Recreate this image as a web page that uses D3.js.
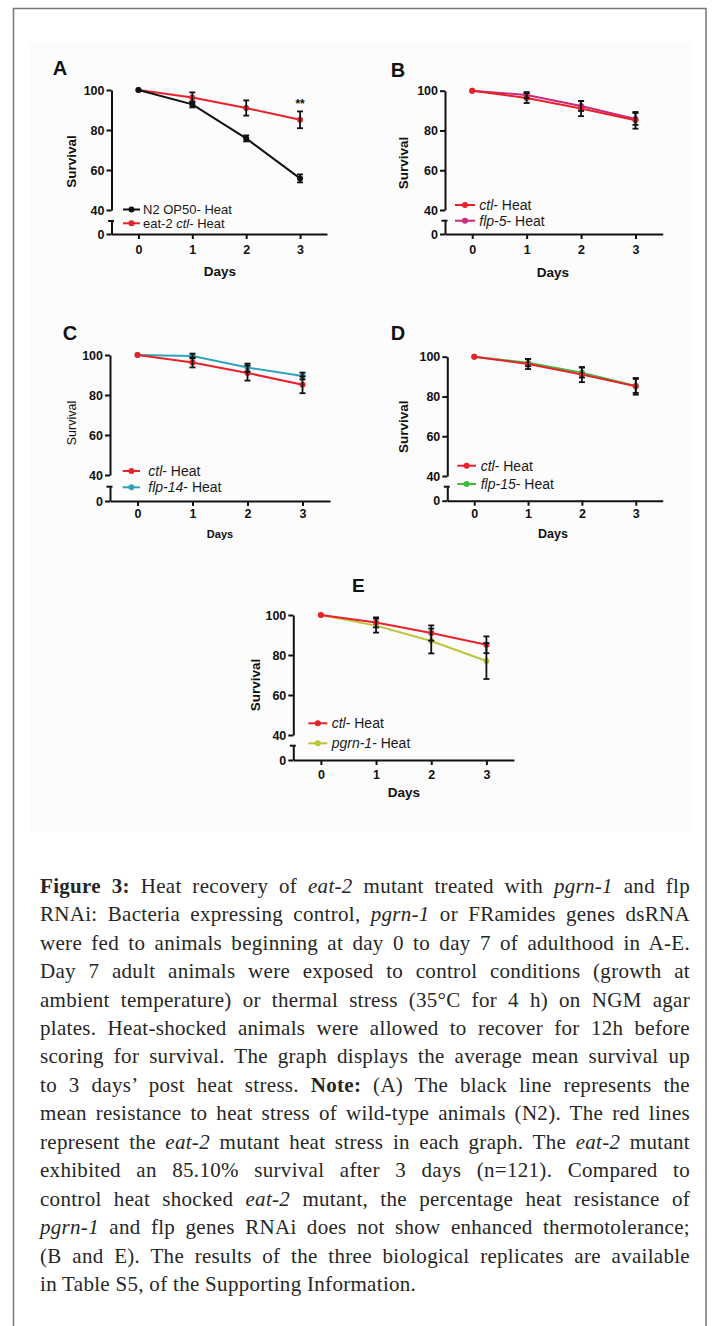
<!DOCTYPE html>
<html>
<head>
<meta charset="utf-8">
<script src="https://cdn.jsdelivr.net/npm/d3@7/dist/d3.min.js"></script>
<style>
  body { margin: 0; background: #fff; }
  #page { position: relative; width: 714px; height: 1326px; overflow: hidden; }
  #page svg { position: absolute; left: 0; top: 0; }
  .cap { position: absolute; left: 40px; width: 650px; white-space: nowrap;
         font-family: "Liberation Serif", "Times New Roman", serif; font-size: 21px;
         letter-spacing: 0.3px; line-height: 28.4px; color: #262626; }
  .cap b { font-weight: bold; }
</style>
</head>
<body>
<div id="page"></div>
<script>
// days after heat shock
var days = [0, 1, 2, 3];
var yTicks = [40, 60, 80, 100];

// mean survival (%) and error
var n2Heat = [100, 92.8, 75.8, 55.8];
var n2HeatErr = [0, 1.5, 1.5, 2.0];
var ctlHeat = [100, 96.3, 91.0, 85.1];
var ctlHeatErr = [0, 2.5, 3.8, 4.2];
var flp5Heat = [100, 97.8, 92.3, 85.8];
var flp5HeatErr = [0, 1.5, 2.5, 3.0];
var flp14Heat = [100, 99.5, 93.7, 89.5];
var flp14HeatErr = [0, 1.2, 2.0, 1.7];
var flp15Heat = [100, 97.0, 92.0, 85.3];
var flp15HeatErr = [0, 1.8, 2.5, 3.5];
var pgrn1Heat = [100, 94.7, 87.0, 77.0];
var pgrn1HeatErr = [0, 3.5, 6.2, 9.0];

// legend labels: [text, italic]
var lblN2 = [["N2 OP50- Heat", false]];
var lblEat2 = [["eat-2 ", false], ["ctl", true], ["- Heat", false]];
var lblCtl = [["ctl", true], ["- Heat", false]];
var lblFlp5 = [["flp-5", true], ["- Heat", false]];
var lblFlp14 = [["flp-14", true], ["- Heat", false]];
var lblFlp15 = [["flp-15", true], ["- Heat", false]];
var lblPgrn1 = [["pgrn-1", true], ["- Heat", false]];

var captionLines = [
  "<b>Figure 3:</b> Heat recovery of <i>eat-2</i> mutant treated with <i>pgrn-1</i> and flp",
  "RNAi: Bacteria expressing control, <i>pgrn-1</i> or FRamides genes dsRNA",
  "were fed to animals beginning at day 0 to day 7 of adulthood in A-E.",
  "Day 7 adult animals were exposed to control conditions (growth at",
  "ambient temperature) or thermal stress (35°C for 4 h) on NGM agar",
  "plates. Heat-shocked animals were allowed to recover for 12h before",
  "scoring for survival. The graph displays the average mean survival up",
  "to 3 days’ post heat stress. <b>Note:</b> (A) The black line represents the",
  "mean resistance to heat stress of wild-type animals (N2). The red lines",
  "represent the <i>eat-2</i> mutant heat stress in each graph. The <i>eat-2</i> mutant",
  "exhibited an 85.10% survival after 3 days (n=121). Compared to",
  "control heat shocked <i>eat-2</i> mutant, the percentage heat resistance of",
  "<i>pgrn-1</i> and flp genes RNAi does not show enhanced thermotolerance;",
  "(B and E). The results of the three biological replicates are available",
  "in Table S5, of the Supporting Information."
];

var RED = "#e8222a";

var panels = [
  { letter: "A", lx: 60, ly: 75, lsize: 20,
    ax: 111.5, xEnd: 327, y100: 90, y40: 210, yCap: 221, y0: 234, pad: 6.5,
    surv: [71.7, 161.5, 13.5, "bold"], dayl: [220, 275.5, 13.5],
    series: [
      { v: ctlHeat, e: ctlHeatErr, c: RED, lbl: lblEat2 },
      { v: n2Heat, e: n2HeatErr, c: "#111", lbl: lblN2 }
    ],
    legendOrder: [1, 0], legSize: 13,
    leg: { x1: 123, x2: 140, tx: 143, rows: [209.5, 223.3] },
    stars: true },
  { letter: "B", lx: 398, ly: 77, lsize: 20,
    ax: 445, xEnd: 662.7, y100: 90.7, y40: 210, yCap: 220.7, y0: 234, pad: 6.5,
    surv: [403, 163, 13.5, "bold"], dayl: [553, 276.5, 13.5],
    series: [
      { v: flp5Heat, e: flp5HeatErr, c: "#c8287e", lbl: lblFlp5 },
      { v: ctlHeat, e: ctlHeatErr, c: RED, lbl: lblCtl }
    ],
    legendOrder: [1, 0], legSize: 14,
    leg: { x1: 455, x2: 475, tx: 479.3, rows: [205, 220.7] } },
  { letter: "C", lx: 70, ly: 340, lsize: 20,
    ax: 110, xEnd: 330, y100: 355, y40: 475, yCap: 486.7, y0: 501, pad: 3.5,
    surv: [71.7, 423, 12.5, "normal"], dayl: [220, 538, 11],
    series: [
      { v: flp14Heat, e: flp14HeatErr, c: "#2fa3bd", lbl: lblFlp14 },
      { v: ctlHeat, e: ctlHeatErr, c: RED, lbl: lblCtl }
    ],
    legendOrder: [1, 0], legSize: 14,
    leg: { x1: 122.7, x2: 140, tx: 148.3, rows: [471, 487.3] } },
  { letter: "D", lx: 398, ly: 340, lsize: 20,
    ax: 447.3, xEnd: 662.7, y100: 356.7, y40: 476, yCap: 486.7, y0: 500.7, pad: 3.5,
    surv: [403, 426.7, 13.5, "bold"], dayl: [553, 537.5, 12.5],
    series: [
      { v: flp15Heat, e: flp15HeatErr, c: "#3dbb3d", lbl: lblFlp15 },
      { v: ctlHeat, e: ctlHeatErr, c: RED, lbl: lblCtl }
    ],
    legendOrder: [1, 0], legSize: 14,
    leg: { x1: 457.3, x2: 476, tx: 480.7, rows: [465.7, 484] } },
  { letter: "E", lx: 358.3, ly: 592, lsize: 19,
    ax: 293.3, xEnd: 514, y100: 615, y40: 735, yCap: 745.7, y0: 760, pad: 5,
    surv: [255, 685, 13.5, "bold"], dayl: [404, 796.7, 13.5],
    series: [
      { v: pgrn1Heat, e: pgrn1HeatErr, c: "#bcc43a", lbl: lblPgrn1 },
      { v: ctlHeat, e: ctlHeatErr, c: RED, lbl: lblCtl }
    ],
    legendOrder: [1, 0], legSize: 14,
    leg: { x1: 308.3, x2: 327.3, tx: 331.7, rows: [723.3, 743.3] } }
];

var sans = "'Liberation Sans', Arial, sans-serif";
var page = d3.select("#page");
var svg = page.append("svg").attr("width", 714).attr("height", 1326);

// faint photo background + outer frame
svg.append("rect").attr("x", 30).attr("y", 42).attr("width", 663).attr("height", 790)
  .attr("fill", "#fcfcfc");
svg.append("rect").attr("x", 13.5).attr("y", 8.5).attr("width", 692.5).attr("height", 1340)
  .attr("fill", "none").attr("stroke", "#777").attr("stroke-width", 1.5);

panels.forEach(function(p) {
  var g = svg.append("g");
  var x = d3.scaleLinear().domain([-0.5, 3.5]).range([p.ax, p.xEnd]);
  var yTop = d3.scaleLinear().domain([40, 100]).range([p.y40, p.y100]);
  var yBot = d3.scaleLinear().domain([0, 10]).range([p.y0, p.yCap]);
  var y = function(v) { return v >= 40 ? yTop(v) : yBot(v); };

  // panel letter
  g.append("text").attr("x", p.lx).attr("y", p.ly).attr("text-anchor", "middle")
    .style("font-family", sans).style("font-weight", "bold").style("font-size", p.lsize + "px")
    .attr("fill", "#111").text(p.letter);

  // axes (y axis broken between 0 and 40)
  var upper = g.append("g").attr("transform", "translate(" + p.ax + ",0)")
    .call(d3.axisLeft(yTop).tickValues(yTicks).tickSize(5).tickSizeOuter(0).tickPadding(2));
  var lower = g.append("g").attr("transform", "translate(" + p.ax + ",0)")
    .call(d3.axisLeft(yBot).tickValues([0]).tickSize(5).tickSizeOuter(0).tickPadding(2));
  lower.append("line").attr("x1", -3.5).attr("x2", 2.5).attr("y1", p.yCap).attr("y2", p.yCap)
    .attr("stroke", "#111").attr("stroke-width", 2);
  var xax = g.append("g").attr("transform", "translate(0," + p.y0 + ")")
    .call(d3.axisBottom(x).tickValues(days).tickFormat(d3.format("d"))
      .tickSize(5).tickSizeOuter(0).tickPadding(p.pad));

  [upper, lower, xax].forEach(function(a) {
    a.selectAll("path, line").attr("stroke", "#111").attr("stroke-width", 2);
    a.selectAll("text").attr("fill", "#111").style("font-family", sans)
      .style("font-weight", "bold").style("font-size", "12.5px");
  });

  // axis titles
  g.append("text").attr("transform", "translate(" + p.surv[0] + "," + p.surv[1] + ") rotate(-90)")
    .attr("text-anchor", "middle").attr("dy", "0.35em").attr("fill", "#111")
    .style("font-family", sans).style("font-weight", p.surv[3]).style("font-size", p.surv[2] + "px")
    .text("Survival");
  g.append("text").attr("x", p.dayl[0]).attr("y", p.dayl[1]).attr("text-anchor", "middle")
    .attr("fill", "#111").style("font-family", sans).style("font-weight", "bold")
    .style("font-size", p.dayl[2] + "px").text("Days");

  // lines + markers
  var line = d3.line().x(function(d, i) { return x(days[i]); }).y(function(d) { return y(d); });
  p.series.forEach(function(s) {
    g.append("path").datum(s.v).attr("d", line).attr("fill", "none")
      .attr("stroke", s.c).attr("stroke-width", 2);
    g.selectAll(null).data(s.v).enter().append("circle")
      .attr("cx", function(d, i) { return x(days[i]); }).attr("cy", function(d) { return y(d); })
      .attr("r", 3).attr("fill", s.c);
  });

  // error bars (black)
  p.series.forEach(function(s) {
    var eb = g.selectAll(null).data(s.v.map(function(v, i) { return { d: days[i], v: v, e: s.e[i] }; })
      .filter(function(o) { return o.e > 0; })).enter().append("g").attr("stroke", "#111").attr("stroke-width", 1.8);
    eb.append("line").attr("x1", function(o) { return x(o.d); }).attr("x2", function(o) { return x(o.d); })
      .attr("y1", function(o) { return y(o.v + o.e); }).attr("y2", function(o) { return y(o.v - o.e); });
    eb.append("line").attr("x1", function(o) { return x(o.d) - 3; }).attr("x2", function(o) { return x(o.d) + 3; })
      .attr("y1", function(o) { return y(o.v + o.e); }).attr("y2", function(o) { return y(o.v + o.e); });
    eb.append("line").attr("x1", function(o) { return x(o.d) - 3; }).attr("x2", function(o) { return x(o.d) + 3; })
      .attr("y1", function(o) { return y(o.v - o.e); }).attr("y2", function(o) { return y(o.v - o.e); });
  });

  if (p.stars) {
    g.append("text").attr("x", x(3)).attr("y", y(ctlHeat[3] + ctlHeatErr[3]) - 3).attr("text-anchor", "middle")
      .attr("fill", "#111").style("font-family", sans).style("font-weight", "bold").style("font-size", "12px")
      .text("**");
  }

  // legend
  p.legendOrder.forEach(function(si, r) {
    var s = p.series[si], ry = p.leg.rows[r];
    g.append("line").attr("x1", p.leg.x1).attr("x2", p.leg.x2).attr("y1", ry).attr("y2", ry)
      .attr("stroke", s.c).attr("stroke-width", 2);
    g.append("circle").attr("cx", (p.leg.x1 + p.leg.x2) / 2).attr("cy", ry).attr("r", 3).attr("fill", s.c);
    var t = g.append("text").attr("x", p.leg.tx).attr("y", ry).attr("dy", "0.35em").attr("fill", "#1a1a1a")
      .style("font-family", sans).style("font-size", p.legSize + "px");
    s.lbl.forEach(function(seg) {
      t.append("tspan").style("font-style", seg[1] ? "italic" : "normal").text(seg[0]);
    });
  });
});

// caption, each printed line justified to the column width
var capTop = 886, capStep = 28.45, capW = 650;
captionLines.forEach(function(txt, i) {
  var div = page.append("div").attr("class", "cap").style("top", (capTop - capStep / 2 + i * capStep) + "px");
  var span = div.append("span").html(txt);
  if (i < captionLines.length - 1) {
    var w = span.node().getBoundingClientRect().width;
    var n = span.node().textContent.split(" ").length - 1;
    span.style("word-spacing", ((capW - w) / n) + "px");
  }
});
</script>
</body>
</html>
